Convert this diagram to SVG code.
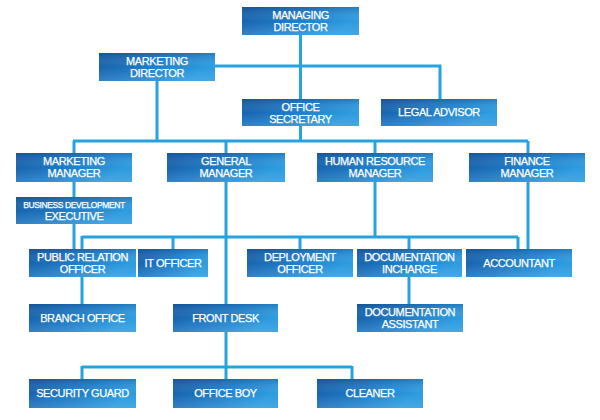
<svg xmlns="http://www.w3.org/2000/svg" width="600" height="420" viewBox="0 0 600 420">
<defs>
<linearGradient id="bg" x1="0" y1="0" x2="1" y2="0.4">
<stop offset="0" stop-color="#1459a2"/>
<stop offset="0.55" stop-color="#1e7cc8"/>
<stop offset="1" stop-color="#2c9ce0"/>
</linearGradient>
<linearGradient id="gl" x1="0" y1="0" x2="0" y2="1">
<stop offset="0" stop-color="#0b3f7a" stop-opacity="0.25"/>
<stop offset="0.5" stop-color="#ffffff" stop-opacity="0"/>
<stop offset="1" stop-color="#ffffff" stop-opacity="0.12"/>
</linearGradient>
</defs>
<style>
.b{fill:url(#bg)}
.g{fill:url(#gl)}
.t{fill:#ffffff;stroke:#ffffff;stroke-width:0.25px;font-family:"Liberation Sans",Arial,sans-serif;font-size:11px;letter-spacing:-0.4px;text-anchor:middle}
.s{font-size:8.5px}
.c{fill:none;stroke:#27a2dd;stroke-width:3}
</style>
<rect width="600" height="420" fill="#ffffff"/>
<g id="connectors" class="c">
<path d="M300.5 35V99M215 66H440V99M157 81V141M300.5 126V141M73 141H528M74 141V153M226 141V153M375 141V153M528 141V153"/>
<path d="M74 182V197M74 224V249M82 237H518M82 236V249M173 237V249M300 237V249M409 237V249M518 237V249"/>
<path d="M226 182V304M375 182V237M528 182V249M82 277V304M409 277V304"/>
<path d="M226 332V367M82 367H352M82 366V379M226 367V379M352 366V379"/>
</g>
<g id="managing-director"><rect class="b" x="242" y="7" width="117" height="28"/><rect class="g" x="242" y="7" width="117" height="28"/><text class="t" x="300.5" y="19">MANAGING</text><text class="t" x="300.5" y="31">DIRECTOR</text></g>
<g id="marketing-director"><rect class="b" x="99" y="53" width="116" height="28"/><rect class="g" x="99" y="53" width="116" height="28"/><text class="t" x="157" y="65">MARKETING</text><text class="t" x="157" y="77">DIRECTOR</text></g>
<g id="office-secretary"><rect class="b" x="242" y="99" width="117" height="27"/><rect class="g" x="242" y="99" width="117" height="27"/><text class="t" x="300.5" y="111">OFFICE</text><text class="t" x="300.5" y="123">SECRETARY</text></g>
<g id="legal-advisor"><rect class="b" x="381" y="99" width="116" height="27"/><rect class="g" x="381" y="99" width="116" height="27"/><text class="t" x="439" y="116">LEGAL ADVISOR</text></g>
<g id="marketing-manager"><rect class="b" x="16" y="153" width="116" height="29"/><rect class="g" x="16" y="153" width="116" height="29"/><text class="t" x="74" y="165">MARKETING</text><text class="t" x="74" y="177">MANAGER</text></g>
<g id="general-manager"><rect class="b" x="167" y="153" width="118" height="29"/><rect class="g" x="167" y="153" width="118" height="29"/><text class="t" x="226" y="165">GENERAL</text><text class="t" x="226" y="177">MANAGER</text></g>
<g id="hr-manager"><rect class="b" x="317" y="153" width="116" height="29"/><rect class="g" x="317" y="153" width="116" height="29"/><text class="t" x="375" y="165">HUMAN RESOURCE</text><text class="t" x="375" y="177">MANAGER</text></g>
<g id="finance-manager"><rect class="b" x="469" y="153" width="116" height="29"/><rect class="g" x="469" y="153" width="116" height="29"/><text class="t" x="527" y="165">FINANCE</text><text class="t" x="527" y="177">MANAGER</text></g>
<g id="business-development-executive"><rect class="b" x="16" y="197" width="116" height="27"/><rect class="g" x="16" y="197" width="116" height="27"/><text class="t s" x="74" y="208">BUSINESS DEVELOPMENT</text><text class="t" x="74" y="220">EXECUTIVE</text></g>
<g id="public-relation-officer"><rect class="b" x="29" y="249" width="107" height="28"/><rect class="g" x="29" y="249" width="107" height="28"/><text class="t" x="82.5" y="261">PUBLIC RELATION</text><text class="t" x="82.5" y="273">OFFICER</text></g>
<g id="it-officer"><rect class="b" x="138" y="249" width="70" height="28"/><rect class="g" x="138" y="249" width="70" height="28"/><text class="t" x="173" y="267">IT OFFICER</text></g>
<g id="deployment-officer"><rect class="b" x="247" y="249" width="106" height="28"/><rect class="g" x="247" y="249" width="106" height="28"/><text class="t" x="300" y="261">DEPLOYMENT</text><text class="t" x="300" y="273">OFFICER</text></g>
<g id="documentation-incharge"><rect class="b" x="357" y="249" width="105" height="28"/><rect class="g" x="357" y="249" width="105" height="28"/><text class="t" x="409.5" y="261">DOCUMENTATION</text><text class="t" x="409.5" y="273">INCHARGE</text></g>
<g id="accountant"><rect class="b" x="466" y="249" width="106" height="28"/><rect class="g" x="466" y="249" width="106" height="28"/><text class="t" x="519" y="267">ACCOUNTANT</text></g>
<g id="branch-office"><rect class="b" x="29" y="304" width="107" height="28"/><rect class="g" x="29" y="304" width="107" height="28"/><text class="t" x="82.5" y="322">BRANCH OFFICE</text></g>
<g id="front-desk"><rect class="b" x="173" y="304" width="105" height="28"/><rect class="g" x="173" y="304" width="105" height="28"/><text class="t" x="225.5" y="322">FRONT DESK</text></g>
<g id="documentation-assistant"><rect class="b" x="357" y="304" width="106" height="28"/><rect class="g" x="357" y="304" width="106" height="28"/><text class="t" x="410" y="316">DOCUMENTATION</text><text class="t" x="410" y="328">ASSISTANT</text></g>
<g id="security-guard"><rect class="b" x="29" y="379" width="107" height="29"/><rect class="g" x="29" y="379" width="107" height="29"/><text class="t" x="82.5" y="397">SECURITY GUARD</text></g>
<g id="office-boy"><rect class="b" x="173" y="379" width="105" height="29"/><rect class="g" x="173" y="379" width="105" height="29"/><text class="t" x="225.5" y="397">OFFICE BOY</text></g>
<g id="cleaner"><rect class="b" x="317" y="379" width="106" height="29"/><rect class="g" x="317" y="379" width="106" height="29"/><text class="t" x="370" y="397">CLEANER</text></g>
</svg>
